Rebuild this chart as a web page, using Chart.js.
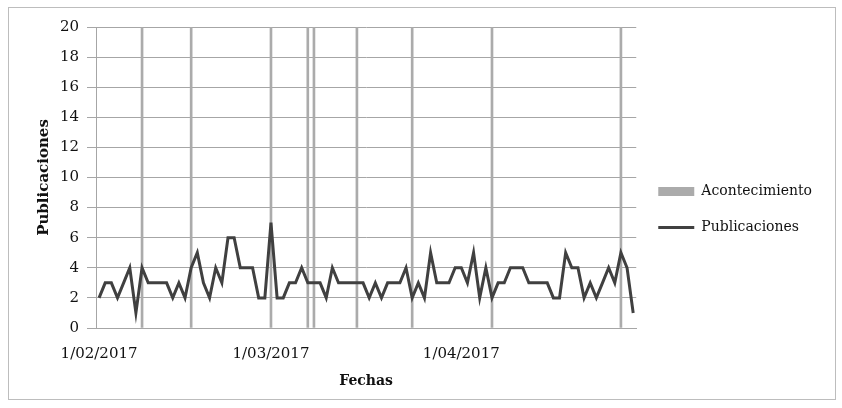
<!DOCTYPE html>
<html>
<head>
<meta charset="utf-8">
<script src="https://cdn.jsdelivr.net/npm/chart.js@4/dist/chart.umd.min.js"></script>
<style>
  html, body { margin: 0; padding: 0; background: #fff; }
  #wrap { width: 842px; height: 408px; }
</style>
</head>
<body>
<div id="wrap"><canvas id="chart" width="842" height="408"></canvas></div>
<script>
// days counted from 1/02/2017
const tickDays = [0, 28, 59]
const tickLabels = ["1/02/2017", "1/03/2017", "1/04/2017"]

const publicaciones = [
    2, 3, 3, 2, 3, 4, 1, 4, 3, 3, 3, 3, 2, 3, 2, 4, 5, 3, 2, 4,
    3, 6, 6, 4, 4, 4, 2, 2, 7, 2, 2, 3, 3, 4, 3, 3, 3, 2, 4, 3,
    3, 3, 3, 3, 2, 3, 2, 3, 3, 3, 4, 2, 3, 2, 5, 3, 3, 3, 4, 4,
    3, 5, 2, 4, 2, 3, 3, 4, 4, 4, 3, 3, 3, 3, 2, 2, 5, 4, 4, 2,
    3, 2, 3, 4, 3, 5, 4, 1,
]

const acontecimientoDays = [7, 15, 28, 34, 35, 42, 51, 64, 85]
const acontecimientoValues = [20, 20, 20, 20, 20, 20, 20, 20, 20]

const yMax = 20
const yStep = 2

const serif = "'DejaVu Serif', serif"

const frame = {
    id : "frame",
    beforeDraw(chart) {
        const ctx = chart.ctx
        ctx.save()
        ctx.fillStyle = "#fff"
        ctx.fillRect(0, 0, chart.width, chart.height)
        ctx.strokeStyle = "#bdbdbd"
        ctx.lineWidth = 1
        ctx.strokeRect(8.5, 7.5, 827, 392)
        ctx.restore()
    },
}

// leave some room between the plot and the legend
const widenLegend = {
    id : "widenLegend",
    beforeLayout(chart) {
        const lg = chart.legend
        if (lg && !lg._widened) {
            const fit = lg.fit.bind(lg)
            lg.fit = function () {
                fit()
                this.width += 15
            }
            lg._widened = true
        }
    },
}

new Chart(document.getElementById("chart").getContext("2d"), {
    data : {
        datasets : [{
            type : "bar",
            label : "Acontecimiento",
            data : acontecimientoDays.map((d, i) => ({ x : d, y : acontecimientoValues[i] })),
            backgroundColor : "#ababab",
            borderWidth : 0,
            barThickness : 2,
            pointStyle : "rect",
            order : 2,
        }, {
            type : "line",
            label : "Publicaciones",
            data : publicaciones.map((v, i) => ({ x : i, y : v })),
            borderColor : "#404040",
            backgroundColor : "#404040",
            borderWidth : 3,
            pointRadius : 0,
            pointStyle : "line",
            tension : 0,
            fill : false,
            order : 1,
        }],
    }, options : {
        responsive : false,
        animation : false,
        layout : {
            padding : { left : 8, right : 5, top : 27, bottom : 16 },
        },
        scales : {
            x : {
                type : "linear",
                min : -0.5,
                max : publicaciones.length - 0.5,
                offset : false,
                afterBuildTicks : (scale) => {
                    scale.ticks = tickDays.map(v => ({ value : v }))
                },
                afterFit : (scale) => { scale.height = 64 },
                ticks : {
                    autoSkip : false,
                    maxRotation : 0,
                    padding : 17,
                    color : "#111",
                    font : { family : serif, size : 15 },
                    callback : (value, index) => tickLabels[index],
                },
                grid : { display : false, drawTicks : false },
                border : { display : true, color : "#a6a6a6" },
                title : {
                    display : true,
                    text : "Fechas",
                    color : "#111",
                    font : { family : serif, size : 14, weight : "bold" },
                    padding : { top : 0, bottom : 2 },
                },
            },
            y : {
                min : 0,
                max : yMax,
                afterFit : (scale) => { scale.width = 88 },
                ticks : {
                    stepSize : yStep,
                    padding : 8,
                    color : "#111",
                    font : { family : serif, size : 15 },
                },
                grid : {
                    color : "#a6a6a6",
                    tickColor : "#a6a6a6",
                    tickLength : 9,
                },
                border : { color : "#a6a6a6" },
                title : {
                    display : true,
                    text : "Publicaciones",
                    color : "#111",
                    font : { family : serif, size : 15, weight : "bold" },
                    padding : { top : 27, bottom : 0 },
                },
            },
        }, plugins : {
            legend : {
                position : "right",
                labels : {
                    usePointStyle : true,
                    pointStyleWidth : 36,
                    boxHeight : 9,
                    padding : 22,
                    color : "#111",
                    font : { family : serif, size : 14 },
                    sort : (a, b) => a.datasetIndex - b.datasetIndex,
                },
            },
            tooltip : { enabled : false },
        },
    },
    plugins : [frame, widenLegend],
})
</script>
</body>
</html>
